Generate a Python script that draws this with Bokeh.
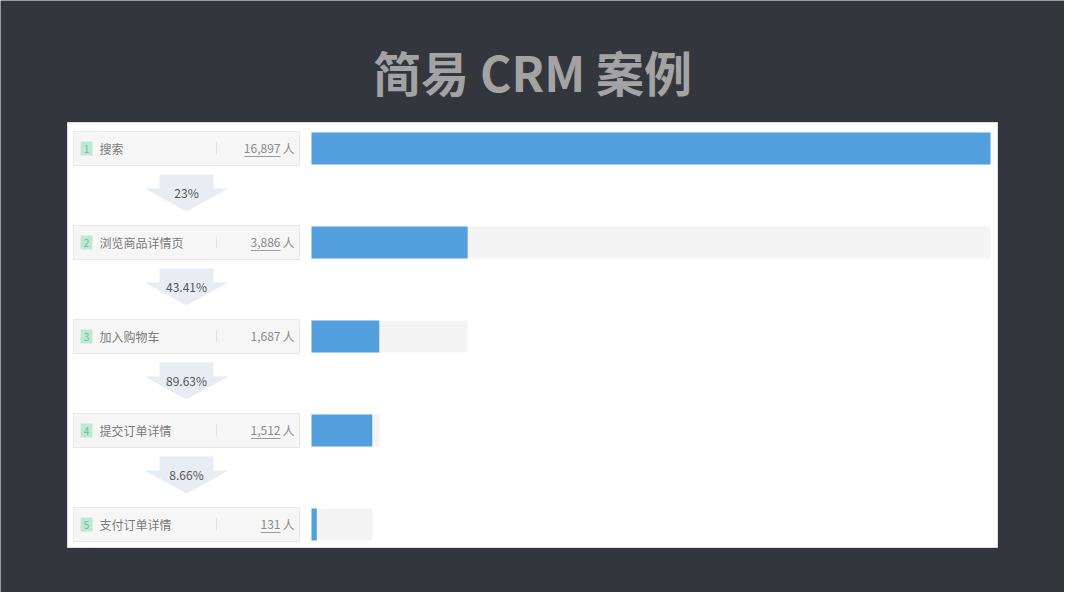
from bokeh.plotting import figure
from bokeh.models import Range1d, ColumnDataSource
from bokeh.core.properties import value
from bokeh.embed import file_html
from bokeh.resources import INLINE

# ---- data ----
steps = ["搜索", "浏览商品详情页", "加入购物车", "提交订单详情", "支付订单详情"]
counts = [16897, 3886, 1687, 1512, 131]
count_labels = ["16,897", "3,886", "1,687", "1,512", "131"]
underlined = [True, True, False, True, True]
conv_labels = ["23%", "43.41%", "89.63%", "8.66%"]
title = "简易 CRM 案例"

FONT = "Noto Sans CJK SC"
W, H = 1064, 592
BG = "#33363d"

p = figure(width=W, height=H, output_backend="svg", toolbar_location=None,
           x_range=Range1d(0, W), y_range=Range1d(H, 0),
           min_border=0, background_fill_color=BG, border_fill_color=BG,
           outline_line_color=None)
p.axis.visible = False
p.grid.visible = False

# value range for bars: value 0 at px 311, max value at px 990
BAR_X0, BAR_W = 311, 679
scale = max(counts) / BAR_W
p.extra_x_ranges = {"val": Range1d(-BAR_X0 * scale, (W - BAR_X0) * scale)}

# title
p.text(x=[532], y=[70], text=[title], text_font=value(FONT), text_font_style="bold",
       text_font_size="48px", text_color="#a3a3a3", text_align="center",
       text_baseline="middle")

# white panel
p.quad(left=[67], right=[997], top=[122], bottom=[547], fill_color="#ffffff",
       line_color="#dcdcdc", line_width=1)

n = len(steps)
row_y = [148 + 94 * i for i in range(n)]
half = 16

# label boxes
p.quad(left=[73] * n, right=[299] * n, top=[y - 17 for y in row_y],
       bottom=[y + 17 for y in row_y], fill_color="#f6f6f6", line_color="#e8e8e8")
# badges
p.quad(left=[80] * n, right=[92] * n, top=[y - 7 for y in row_y],
       bottom=[y + 7 for y in row_y], fill_color="#bfe8d3", line_color=None)
p.text(x=[86] * n, y=row_y, text=[str(i + 1) for i in range(n)], text_font=value(FONT),
       text_font_size="10px", text_color="#6cbf94", text_align="center",
       text_baseline="middle")
# step names
p.text(x=[99] * n, y=row_y, text=steps, text_font=value(FONT), text_font_size="12px",
       text_color="#7a7a7a", text_align="left", text_baseline="middle")
# separators
p.segment(x0=[216] * n, x1=[216] * n, y0=[y - 6 for y in row_y],
          y1=[y + 6 for y in row_y], line_color="#e2e2e2", line_width=1)
# counts
p.text(x=[280] * n, y=row_y, text=count_labels, text_font=value(FONT),
       text_font_size="12px", text_color="#8a8a8a", text_align="right",
       text_baseline="middle")
p.text(x=[288] * n, y=row_y, text=["人"] * n, text_font=value(FONT),
       text_font_size="12px", text_color="#8a8a8a", text_align="center",
       text_baseline="middle")
ux0, ux1, uy = [], [], []
for i in range(n):
    if underlined[i]:
        w = sum(3.2 if c == "," else 6.6 for c in count_labels[i])
        ux0.append(280 - w); ux1.append(280); uy.append(row_y[i] + 8)
p.segment(x0=ux0, x1=ux1, y0=uy, y1=uy, line_color="#9a9a9a", line_width=1)

# bar tracks and bars
tracks = [counts[0]] + counts[:-1]
src = ColumnDataSource(dict(zero=[0] * n, track=tracks, val=counts,
                            top=[y - half for y in row_y], bottom=[y + half for y in row_y]))
p.quad(left="zero", right="track", top="top", bottom="bottom", source=src,
       x_range_name="val", fill_color="#f4f4f5", line_color=None)
p.quad(left="zero", right="val", top="top", bottom="bottom", source=src,
       x_range_name="val", fill_color="#539fdd", line_color=None)

# conversion arrows
xs, ys, ax, ay = [], [], [], []
for i in range(n - 1):
    y0 = row_y[i] + 26
    xs.append([159, 213, 213, 228, 186, 144, 159])
    ys.append([y0, y0, y0 + 14, y0 + 14, y0 + 37, y0 + 14, y0 + 14])
    ax.append(186); ay.append(y0 + 18)
p.patches(xs=xs, ys=ys, fill_color="#e8edf3", line_color=None)
p.text(x=ax, y=ay, text=conv_labels, text_font=value(FONT), text_font_size="12px",
       text_color="#555555", text_align="center", text_baseline="middle")

open("out.html", "w").write(file_html(p, INLINE))
